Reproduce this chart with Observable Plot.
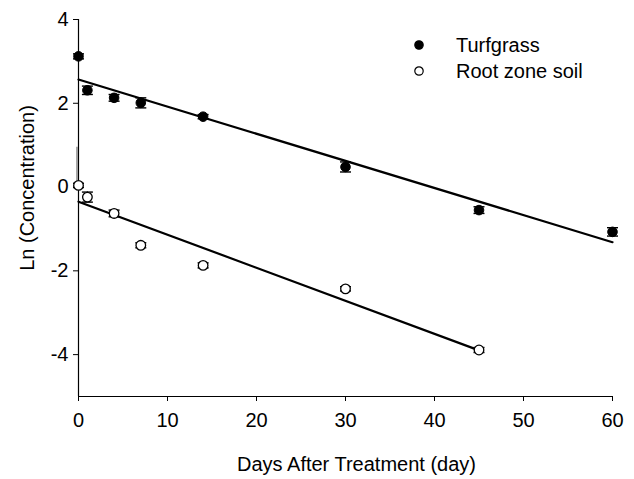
<!DOCTYPE html>
<html>
<head>
<meta charset="utf-8">
<script src="https://cdn.jsdelivr.net/npm/d3@7"></script>
<script src="https://cdn.jsdelivr.net/npm/@observablehq/plot@0.6"></script>
<style>
  body { margin: 0; background: white; }
  #chart { position: relative; width: 634px; height: 479px; font-family: "Liberation Sans", Arial, sans-serif; }
  #legend { position: absolute; left: 410px; top: 32px; font-size: 20px; color: black; }
  #legend .row { display: flex; align-items: center; height: 26px; }
  #legend svg { width: 46px; height: 26px; }
</style>
</head>
<body>
<div id="chart"><div id="legend"></div></div>
<script>
// ---- data ----
const seriesNames = ["Turfgrass", "Root zone soil"];
const turfDays = [0, 1, 4, 7, 14, 30, 45, 60];
const turfLn   = [3.12, 2.31, 2.13, 2.01, 1.68, 0.48, -0.55, -1.07];
const turfSE   = [0.06, 0.10, 0.08, 0.12, 0.05, 0.12, 0.08, 0.10];
const soilDays = [0, 1, 4, 7, 14, 30, 45];
const soilLn   = [0.04, -0.24, -0.63, -1.39, -1.87, -2.43, -3.89];
const soilSE   = [0.05, 0.12, 0.08, 0.06, 0.06, 0.05, 0.06];
const soilDay0UpperBar = 0.95;   // stray thin bar above the day-0 soil point
const xTicks = [0, 10, 20, 30, 40, 50, 60];
const yTicks = [-4, -2, 0, 2, 4];
const xDomain = [0, 60];
const yDomain = [-5, 4];
const xLabel = "Days After Treatment (day)";
const yLabel = "Ln (Concentration)";

const turf = turfDays.map((d, i) => ({series: seriesNames[0], day: d, ln: turfLn[i], se: turfSE[i]}));
const soil = soilDays.map((d, i) => ({series: seriesNames[1], day: d, ln: soilLn[i], se: soilSE[i]}));
const all = turf.concat(soil);

const cap = {draw(ctx, size) { const w = Math.sqrt(size / Math.PI); ctx.moveTo(-w, 0); ctx.lineTo(w, 0); }};

const plot = Plot.plot({
  width: 634, height: 479,
  marginLeft: 78, marginRight: 22, marginTop: 19, marginBottom: 83,
  style: {fontFamily: '"Liberation Sans", Arial, sans-serif', fontSize: "20px", color: "black", background: "white"},
  x: {domain: xDomain},
  y: {domain: yDomain},
  marks: [
    Plot.axisX({ticks: xTicks, tickSize: 5, tickPadding: 11, label: null, stroke: "black", fontSize: 20, tickFormat: d => String(d)}),
    Plot.axisY({ticks: yTicks, tickSize: 5, tickPadding: 5, label: null, stroke: "black", fontSize: 20, tickFormat: d => String(d)}),
    Plot.ruleX([xDomain[0]], {stroke: "black", strokeWidth: 1.2}),
    Plot.ruleY([yDomain[0]], {stroke: "black", strokeWidth: 1.2}),
    Plot.text([xLabel], {frameAnchor: "bottom", dy: 74, dx: 11, text: d => d, fontSize: 20, fill: "black"}),
    Plot.text([yLabel], {frameAnchor: "left", textAnchor: "middle", rotate: -90, dx: -51, dy: -20, text: d => d, fontSize: 20, fill: "black"}),
    Plot.ruleX([{day: soilDays[0], lo: soilLn[0], hi: soilDay0UpperBar}], {x: "day", y1: "lo", y2: "hi", stroke: "#888", strokeWidth: 1.5, dx: -1.5}),
    Plot.linearRegressionY(turf, {x: "day", y: "ln", stroke: "black", strokeWidth: 2.2, ci: 0}),
    Plot.linearRegressionY(soil, {x: "day", y: "ln", stroke: "black", strokeWidth: 2.2, ci: 0}),
    Plot.ruleX(all, {x: "day", y1: d => d.ln - d.se, y2: d => d.ln + d.se, stroke: "black", strokeWidth: 1.2}),
    Plot.dot(all, {x: "day", y: d => d.ln - d.se, symbol: cap, r: 5.5, stroke: "black", fill: "none", strokeWidth: 1.4}),
    Plot.dot(all, {x: "day", y: d => d.ln + d.se, symbol: cap, r: 5.5, stroke: "black", fill: "none", strokeWidth: 1.4}),
    Plot.dot(turf, {x: "day", y: "ln", r: 4.8, fill: "black", stroke: "black", strokeWidth: 1}),
    Plot.dot(soil, {x: "day", y: "ln", r: 4.8, fill: "white", stroke: "black", strokeWidth: 1.3})
  ]
});
document.getElementById("chart").prepend(plot);

const legend = document.getElementById("legend");
seriesNames.forEach((name, i) => {
  const row = document.createElement("div");
  row.className = "row";
  row.innerHTML = `<svg viewBox="0 0 46 26"><circle cx="9" cy="13" r="4.2" fill="${i === 0 ? "black" : "white"}" stroke="black" stroke-width="1.2"/></svg><span>${name}</span>`;
  legend.appendChild(row);
});
</script>
</body>
</html>
